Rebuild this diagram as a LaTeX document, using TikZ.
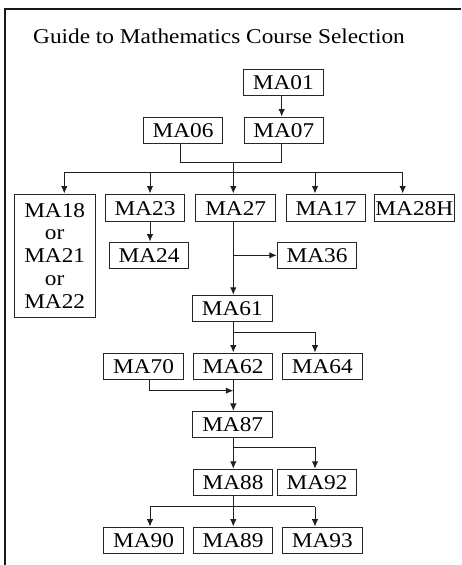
\documentclass[tikz,border=0pt]{standalone}
\usepackage{fontspec}
\setmainfont[FakeStretch=1.11]{Liberation Serif}
\usetikzlibrary{arrows.meta}
\tikzset{
  boxbase/.style={draw=black!85, line width=1pt, inner sep=0pt, minimum width=79.5pt, font=\fontsize{21}{22.7}\selectfont, align=center},
  course/.style={boxbase, minimum height=26.5pt, text height=14.5pt, text depth=0pt},
  conn/.style={draw=black!88, line width=1pt},
  arr/.style={conn, -{Latex[length=7.5pt,width=6.5pt]}},
}
\begin{document}
\begin{tikzpicture}[x=1pt,y=-1pt]
\useasboundingbox (0,0) rectangle (461,565);
\draw[line width=2pt, black!90] (5,565) -- (5,9) -- (461,9);
\node[anchor=base west, inner sep=0pt, font=\fontsize{21}{22.7}\selectfont] (title) at (33,43.3) {Guide to Mathematics Course Selection};

\node[course] (MA01) at (283.3,82.7) {MA01};
\node[course] (MA06) at (183,130.3) {MA06};
\node[course] (MA07) at (283.8,130.3) {MA07};

\node[boxbase, minimum width=80.7pt, minimum height=123.3pt] (MA18) at (54.7,255.7) {MA18\\or\\MA21\\or\\MA22};

\node[course, minimum height=27.7pt] (MA23) at (145,207.85) {MA23};
\node[course, minimum height=27.7pt] (MA27) at (235.7,207.85) {MA27};
\node[course, minimum height=27.7pt] (MA17) at (326,207.85) {MA17};
\node[course, minimum height=27.7pt] (MA28H) at (414.3,207.85) {MA28H};

\node[course] (MA24) at (149,255.3) {MA24};
\node[course] (MA36) at (317,255.3) {MA36};
\node[course] (MA61) at (232.3,308.5) {MA61};

\node[course] (MA70) at (143.5,366.3) {MA70};
\node[course] (MA62) at (233,366.3) {MA62};
\node[course] (MA64) at (322.3,366.3) {MA64};

\node[course] (MA87) at (232.7,424.7) {MA87};
\node[course] (MA88) at (233,482.5) {MA88};
\node[course] (MA92) at (317,482.5) {MA92};

\node[course] (MA90) at (143.5,540.3) {MA90};
\node[course] (MA89) at (233,540.3) {MA89};
\node[course] (MA93) at (322.3,540.3) {MA93};

% MA01 -> MA07
\coordinate (c01) at (281.7,0);
\draw[arr] (MA01.south -| c01) -- (MA07.north -| c01);
% MA06, MA07 join
\coordinate (j1) at (180,162.3);
\coordinate (j2) at (281.7,162.3);
\coordinate (jt) at (233.3,162.3);
\draw[conn] (MA06.south -| j1) -- (j1) -- (j2) -- (MA07.south -| j2);
\coordinate (b1) at (64.3,172);
\coordinate (b2) at (150,172);
\coordinate (b3) at (233.3,172);
\coordinate (b4) at (315,172);
\coordinate (b5) at (402.7,172);
\draw[conn] (jt) -- (b3);
\draw[conn] (b1) -- (b5);
\draw[arr] (b1) -- (b1 |- MA18.north);
\draw[arr] (b2) -- (b2 |- MA23.north);
\draw[arr] (b3) -- (b3 |- MA27.north);
\draw[arr] (b4) -- (b4 |- MA17.north);
\draw[arr] (b5) -- (b5 |- MA28H.north);

% MA23 -> MA24
\coordinate (c24) at (150,0);
\draw[arr] (MA23.south -| c24) -- (MA24.north -| c24);
% MA27 -> MA61, MA36
\coordinate (t27) at (233.3,255.3);
\draw[arr] (MA27.south -| t27) -- (MA61.north -| t27);
\draw[arr] (t27) -- (MA36.west);
% MA61 -> MA62, MA64
\coordinate (s61) at (233.3,332.3);
\coordinate (s64) at (315,332.3);
\draw[arr] (MA61.south -| s61) -- (MA62.north -| s61);
\draw[arr] (s61) -- (s64) -- (MA64.north -| s64);
% MA70 -> trunk, MA62 -> MA87
\coordinate (k70) at (149,390.7);
\coordinate (k62) at (233.3,390.7);
\draw[arr] (MA70.south -| k70) -- (k70) -- (k62);
\draw[arr] (MA62.south -| k62) -- (MA87.north -| k62);
% MA87 -> MA88, MA92
\coordinate (s87) at (233.3,447.7);
\coordinate (s92) at (315,447.7);
\draw[arr] (MA87.south -| s87) -- (MA88.north -| s87);
\draw[arr] (s87) -- (s92) -- (MA92.north -| s92);
% MA88 -> MA90, MA89, MA93
\coordinate (d0) at (233.3,506.7);
\coordinate (d1) at (150,506.7);
\coordinate (d3) at (315,506.7);
\draw[conn] (MA88.south -| d0) -- (d0);
\draw[conn] (d1) -- (d3);
\draw[arr] (d1) -- (d1 |- MA90.north);
\draw[arr] (d0) -- (d0 |- MA89.north);
\draw[arr] (d3) -- (d3 |- MA93.north);
\end{tikzpicture}
\end{document}
